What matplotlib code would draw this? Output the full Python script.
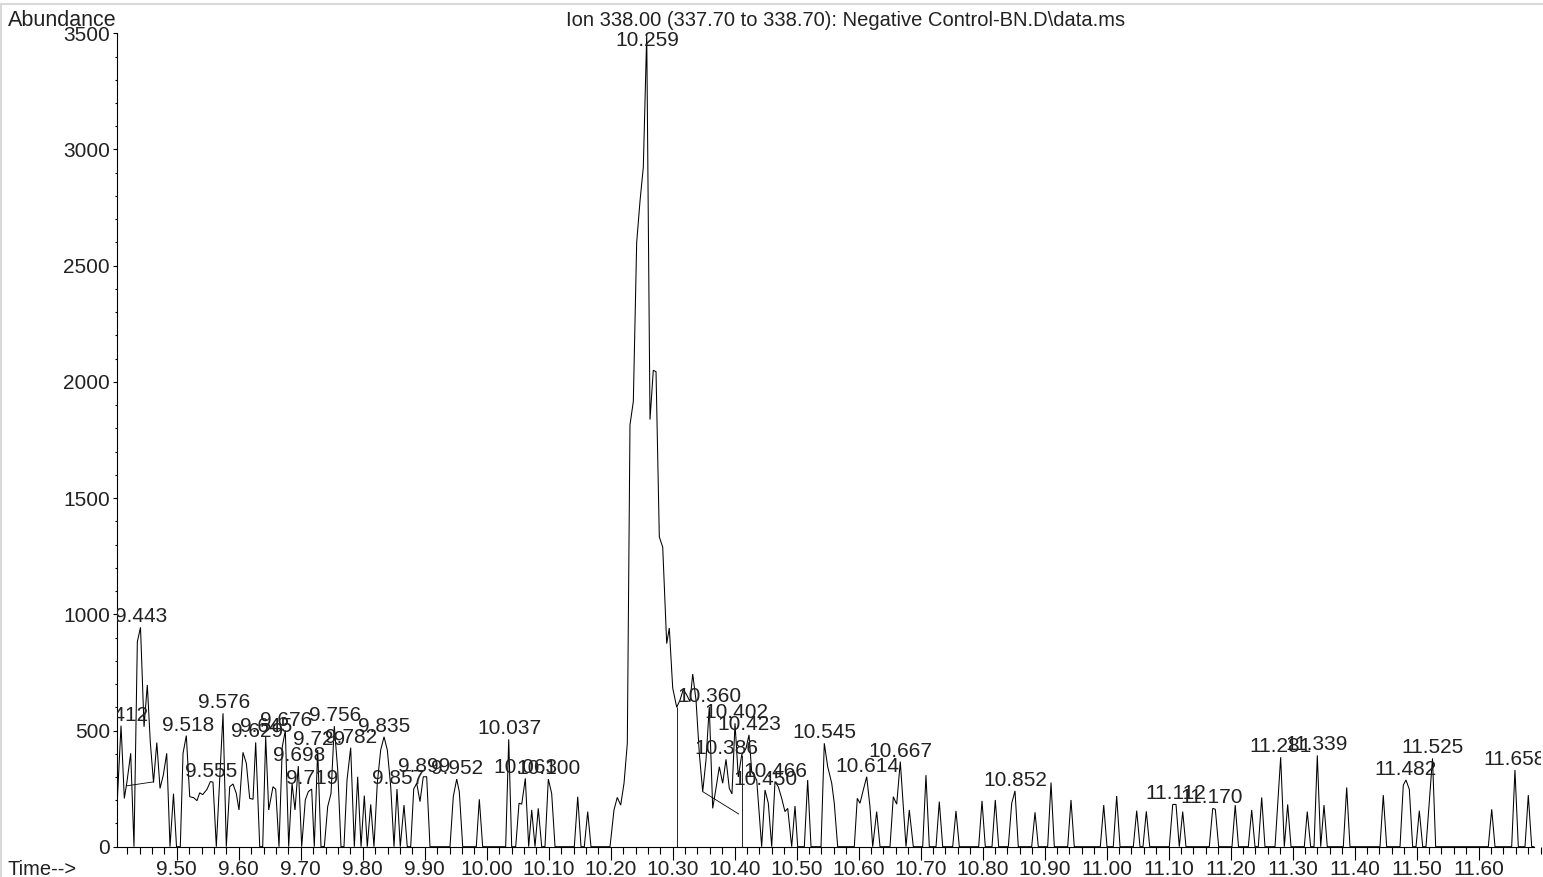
import numpy as np
import matplotlib
matplotlib.use("Agg")
import matplotlib.pyplot as plt
from matplotlib.ticker import MultipleLocator, FixedLocator
from matplotlib.lines import Line2D

# ---------------- data ----------------
time_min = [
    9.4042, 9.4102, 9.4155, 9.4198, 9.4258, 9.4311, 9.4365, 9.4416, 9.4473, 9.4526,
    9.4574, 9.4626, 9.4679, 9.4731, 9.4784, 9.4839, 9.4892, 9.4948, 9.4997, 9.5058,
    9.5102, 9.5155, 9.5210, 9.5274, 9.5327, 9.5371, 9.5419, 9.5489, 9.5542, 9.5585,
    9.5639, 9.5747, 9.5800, 9.5855, 9.5908, 9.5961, 9.6005, 9.6069, 9.6123, 9.6177,
    9.6231, 9.6274, 9.6339, 9.6387, 9.6435, 9.6484, 9.6553, 9.6597, 9.6650, 9.6703,
    9.6752, 9.6806, 9.6860, 9.6908, 9.6961, 9.7016, 9.7074, 9.7123, 9.7177, 9.7219,
    9.7274, 9.7327, 9.7381, 9.7435, 9.7489, 9.7542, 9.7597, 9.7650, 9.7698, 9.7747,
    9.7806, 9.7865, 9.7919, 9.7973, 9.8026, 9.8074, 9.8129, 9.8182, 9.8235, 9.8290,
    9.8344, 9.8397, 9.8452, 9.8505, 9.8553, 9.8606, 9.8666, 9.8719, 9.8774, 9.8823,
    9.8871, 9.8924, 9.8977, 9.9032, 9.9085, 9.9408, 9.9461, 9.9516, 9.9558, 9.9613,
    9.9832, 9.9881, 9.9935, 10.0306, 10.0355, 10.0403, 10.0468, 10.0521, 10.0565, 10.0623,
    10.0677, 10.0726, 10.0779, 10.0832, 10.0887, 10.0940, 10.0994, 10.1048, 10.1102, 10.1413,
    10.1468, 10.1521, 10.1574, 10.1629, 10.1682, 10.1989, 10.2053, 10.2106, 10.2161, 10.2215,
    10.2268, 10.2311, 10.2365, 10.2419, 10.2473, 10.2526, 10.2581, 10.2634, 10.2687, 10.2731,
    10.2784, 10.2839, 10.2903, 10.2945, 10.3000, 10.3065, 10.3118, 10.3171, 10.3226, 10.3279,
    10.3323, 10.3376, 10.3429, 10.3484, 10.3537, 10.3590, 10.3645, 10.3698, 10.3752, 10.3806,
    10.3860, 10.3913, 10.3956, 10.4005, 10.4058, 10.4113, 10.4182, 10.4231, 10.4274, 10.4355,
    10.4435, 10.4489, 10.4542, 10.4597, 10.4650, 10.4703, 10.4758, 10.4811, 10.4855, 10.4919,
    10.4973, 10.5016, 10.5123, 10.5177, 10.5231, 10.5392, 10.5445, 10.5500, 10.5565, 10.5606,
    10.5661, 10.5929, 10.5977, 10.6021, 10.6074, 10.6129, 10.6182, 10.6226, 10.6290, 10.6344,
    10.6505, 10.6558, 10.6613, 10.6671, 10.6763, 10.6816, 10.6881, 10.7032, 10.7085, 10.7139,
    10.7247, 10.7300, 10.7355, 10.7516, 10.7569, 10.7623, 10.7935, 10.7989, 10.8042, 10.8150,
    10.8203, 10.8258, 10.8413, 10.8468, 10.8521, 10.8574, 10.8790, 10.8844, 10.8897, 10.9048,
    10.9102, 10.9155, 10.9371, 10.9424, 10.9477, 10.9897, 10.9952, 11.0005, 11.0106, 11.0161,
    11.0215, 11.0429, 11.0484, 11.0537, 11.0585, 11.0639, 11.0694, 11.1010, 11.1065, 11.1118,
    11.1171, 11.1226, 11.1279, 11.1655, 11.1710, 11.1752, 11.1806, 11.2021, 11.2073, 11.2126,
    11.2284, 11.2339, 11.2392, 11.2445, 11.2500, 11.2553, 11.2715, 11.2806, 11.2865, 11.2919,
    11.2973, 11.3187, 11.3235, 11.3290, 11.3344, 11.3397, 11.3452, 11.3505, 11.3558, 11.3816,
    11.3871, 11.3924, 11.4408, 11.4461, 11.4516, 11.4731, 11.4784, 11.4827, 11.4881, 11.4935,
    11.4989, 11.5042, 11.5097, 11.5150, 11.5255, 11.5306, 11.6155, 11.6210, 11.6263, 11.6532,
    11.6585, 11.6639, 11.6747, 11.6800, 11.6855, 11.6890,
]
abundance = [
    201, 521, 208, 280, 402, 0, 882, 944, 516, 696,
    450, 276, 448, 251, 308, 402, 0, 228, 0, 0,
    402, 478, 215, 211, 198, 232, 224, 247, 280, 278,
    0, 574, 0, 258, 270, 229, 158, 406, 359, 208,
    204, 449, 0, 0, 473, 158, 258, 247, 0, 430,
    500, 0, 273, 158, 347, 0, 201, 237, 248, 0,
    416, 0, 0, 172, 229, 519, 330, 0, 0, 287,
    426, 0, 301, 0, 220, 0, 182, 0, 273, 416,
    473, 416, 258, 0, 248, 0, 179, 0, 0, 248,
    273, 194, 301, 301, 0, 0, 215, 291, 237, 0,
    0, 204, 0, 0, 462, 0, 0, 187, 183, 294,
    0, 158, 0, 165, 0, 0, 291, 229, 0, 0,
    215, 0, 0, 151, 0, 0, 158, 212, 179, 273,
    445, 1815, 1916, 2600, 2779, 2924, 3496, 1838, 2050, 2044,
    1333, 1289, 874, 941, 683, 600, 631, 677, 653, 624,
    743, 631, 402, 237, 373, 602, 165, 251, 344, 273,
    376, 251, 227, 531, 300, 395, 423, 481, 323, 287,
    0, 244, 187, 0, 280, 258, 208, 151, 165, 0,
    175, 0, 0, 287, 0, 0, 445, 344, 273, 187,
    0, 0, 208, 187, 244, 301, 172, 0, 151, 0,
    0, 215, 183, 366, 0, 158, 0, 0, 308, 0,
    0, 194, 0, 0, 154, 0, 0, 197, 0, 0,
    201, 0, 0, 187, 240, 0, 0, 148, 0, 0,
    276, 0, 0, 201, 0, 0, 179, 0, 0, 218,
    0, 0, 155, 0, 0, 152, 0, 0, 182, 182,
    0, 151, 0, 0, 165, 161, 0, 0, 179, 0,
    0, 158, 0, 0, 212, 0, 0, 385, 0, 182,
    0, 0, 151, 0, 0, 393, 0, 179, 0, 0,
    255, 0, 0, 222, 0, 0, 265, 287, 247, 0,
    0, 155, 0, 0, 380, 0, 0, 161, 0, 0,
    330, 0, 0, 222, 0, 0,
]

# integration baselines and drop lines
baseline1_t = [9.4196, 9.4626]
baseline1_v = [262, 279]
baseline2_t = [10.3484, 10.4063]
baseline2_v = [237, 141]
drop_t = [10.3065, 10.4113]
drop_v = [600, 395]

peak_labels = ["9.412", "9.443", "9.518", "9.555", "9.576", "9.629", "9.645", "9.676",
               "9.698", "9.719", "9.729", "9.756", "9.782", "9.835", "9.857", "9.899",
               "9.952", "10.037", "10.063", "10.100", "10.259", "10.360", "10.386",
               "10.402", "10.423", "10.450", "10.466", "10.545", "10.614", "10.667",
               "10.852", "11.112", "11.170", "11.281", "11.339", "11.482", "11.525",
               "11.658"]

x_ticks = [9.50, 9.60, 9.70, 9.80, 9.90, 10.00, 10.10, 10.20, 10.30, 10.40, 10.50,
           10.60, 10.70, 10.80, 10.90, 11.00, 11.10, 11.20, 11.30, 11.40, 11.50, 11.60]
x_ticklabels = ["9.50", "9.60", "9.70", "9.80", "9.90", "10.00", "10.10", "10.20",
                "10.30", "10.40", "10.50", "10.60", "10.70", "10.80", "10.90", "11.00",
                "11.10", "11.20", "11.30", "11.40", "11.50", "11.60"]
y_ticks = [0, 500, 1000, 1500, 2000, 2500, 3000, 3500]
y_ticklabels = ["0", "500", "1000", "1500", "2000", "2500", "3000", "3500"]

title_text = "Ion 338.00 (337.70 to 338.70): Negative Control-BN.D\\data.ms"

# ---------------- figure ----------------
plt.rcParams["font.family"] = ["Liberation Sans", "DejaVu Sans"]
plt.rcParams["font.size"] = 15

W, H = 1543, 877
fig = plt.figure(figsize=(W / 100, H / 100), dpi=100)
fig.patch.set_facecolor("white")

ax_left, ax_right, ax_bottom, ax_top = 117, 1541, 846.7, 33.3
ax = fig.add_axes([ax_left / W, (H - ax_bottom) / H,
                   (ax_right - ax_left) / W, (ax_bottom - ax_top) / H])
ax.set_xlim(9.4037, 11.7005)
ax.set_ylim(0, 3500)

t = np.array(time_min)
v = np.array(abundance)
ax.plot(t, v, color="black", lw=0.75, solid_joinstyle="miter")
ax.plot(baseline1_t, baseline1_v, color="black", lw=0.6)
ax.plot(baseline2_t, baseline2_v, color="black", lw=0.6)
ax.vlines(drop_t, 0, drop_v, color="black", lw=0.6)

for lab in peak_labels:
    t0 = float(lab)
    m = np.abs(t - t0) < 0.004
    vmax = v[m].max() if m.any() else 0
    if vmax > 3300:
        ax.annotate(lab, (t0, 3500), xytext=(0, 1.5), textcoords="offset points",
                    ha="center", va="top", clip_on=False, annotation_clip=False,
                    color="#222222")
    else:
        ax.annotate(lab, (t0, vmax), xytext=(0, 3.6), textcoords="offset points",
                    ha="center", va="baseline", clip_on=True, annotation_clip=False,
                    color="#222222")

for s in ["top", "right"]:
    ax.spines[s].set_visible(False)
ax.spines["left"].set_linewidth(0.8)
ax.spines["bottom"].set_linewidth(0.8)
ax.spines["bottom"].set_bounds(9.4037, 11.689)

ax.xaxis.set_major_locator(FixedLocator(x_ticks))
ax.set_xticklabels(x_ticklabels)
ax.xaxis.set_minor_locator(MultipleLocator(0.02))
ax.yaxis.set_major_locator(FixedLocator(y_ticks))
ax.set_yticklabels(y_ticklabels)
ax.yaxis.set_minor_locator(MultipleLocator(100))

ax.tick_params(axis="x", which="major", length=9.1, width=0.8, pad=0.8, direction="out",
               labelcolor="#222222")
ax.tick_params(axis="x", which="minor", length=4.8, width=0.8, direction="out")
ax.tick_params(axis="y", which="major", length=2.6, width=0.8, pad=2.5, direction="out",
               labelcolor="#222222")
ax.tick_params(axis="y", which="minor", length=1.8, width=0.8, direction="out")

# header / footer texts
fig.text(8 / W, 1 - 26.5 / H, "Abundance", ha="left", va="baseline", color="#222222",
         fontsize=15.5)
fig.text(845.5 / W, 1 - 26.5 / H, title_text, ha="center", va="baseline", color="#222222",
         fontsize=14.5)
fig.text(8 / W, 1 - 875 / H, "Time-->", ha="left", va="baseline", color="#222222",
         fontsize=14.5)

# light frame border
fig.add_artist(Line2D([0, 1], [1 - 4 / H, 1 - 4 / H], transform=fig.transFigure,
                      color="#d9d9d9", lw=1.5))
fig.add_artist(Line2D([0.6 / W, 0.6 / W], [0, 1 - 4 / H], transform=fig.transFigure,
                      color="#d9d9d9", lw=1.5))

fig.savefig("out.png", dpi=100, facecolor="white")
